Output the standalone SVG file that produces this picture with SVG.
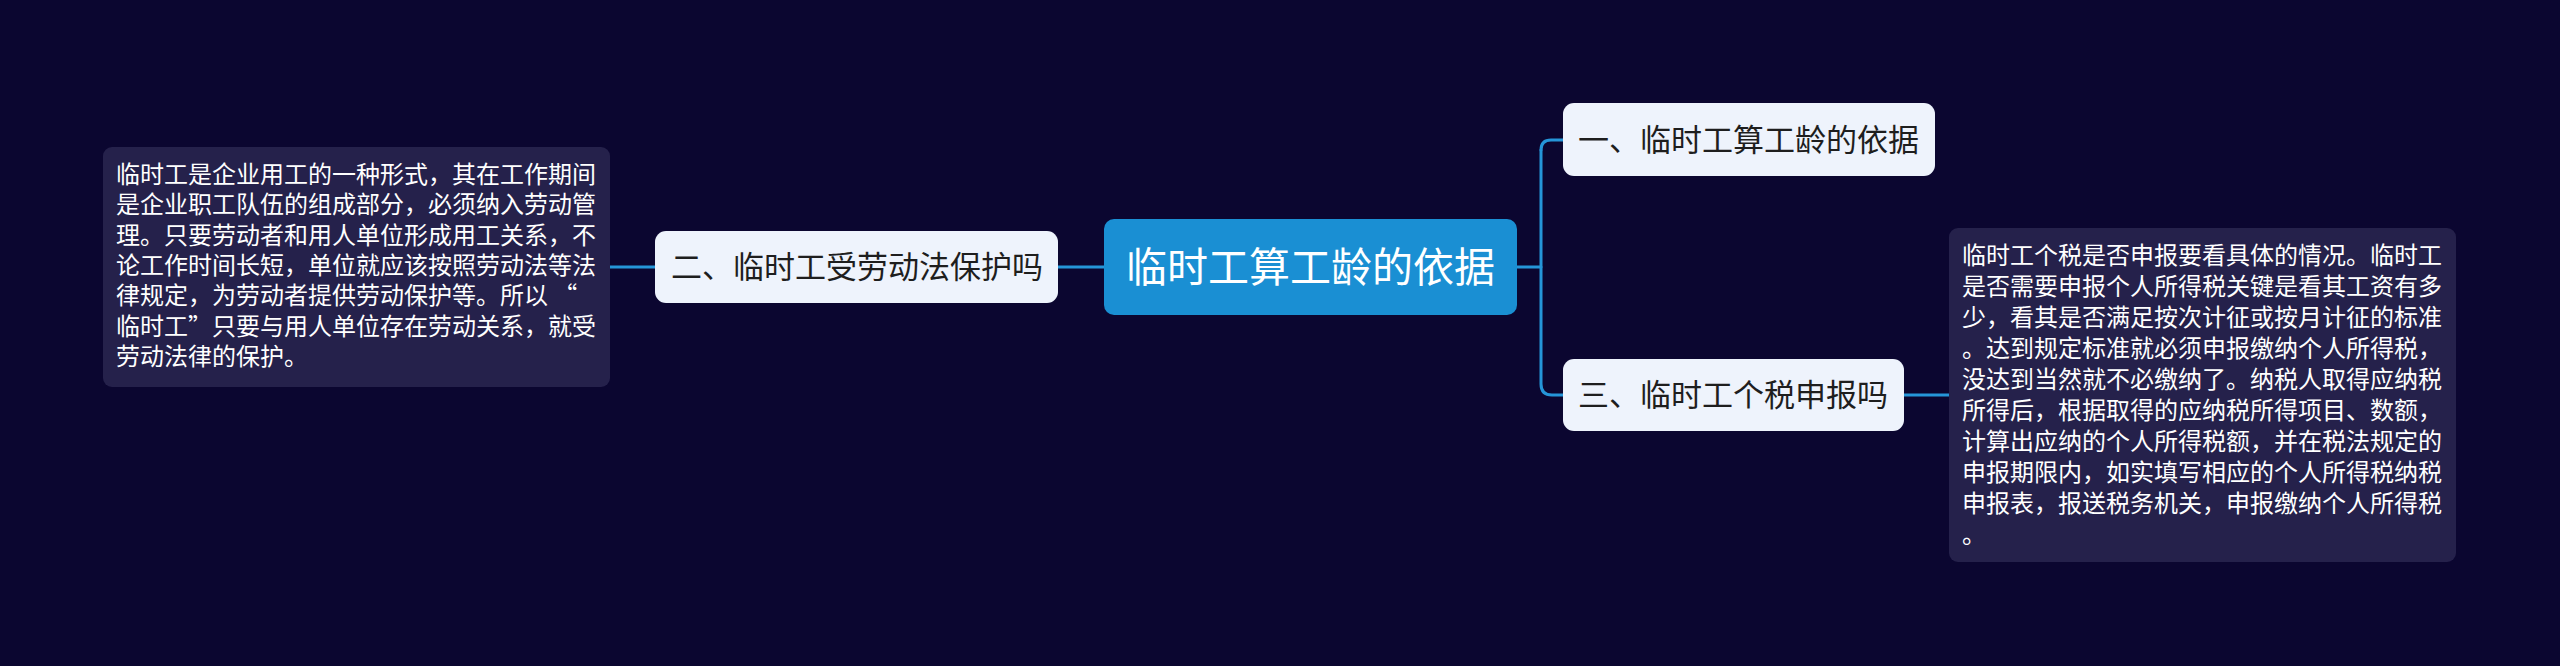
<svg xmlns="http://www.w3.org/2000/svg" width="2560" height="666" viewBox="0 0 2560 666">
<style>
.bg{fill:#0b0630}
.node{fill:#eef3fc}
.root{fill:#1a8fd3}
.note{fill:#25214b}
.t{font-family:"Noto Sans CJK SC","Noto Sans",sans-serif}
.nt{font-size:31px;fill:#1e1e1e}
.rt{font-size:41px;fill:#ffffff;text-anchor:middle}
.ntx{font-size:24px;fill:#ffffff}
.link{fill:none;stroke:#2595d8;stroke-width:3;stroke-linecap:round}
</style>
<rect class="bg" x="0" y="0" width="2560" height="666"/>
<g id="connectors">
<path class="link" d="M1517,267 H1541"/>
<path class="link" d="M1541,150 V384 Q1541,395 1552,395 H1563"/>
<path class="link" d="M1541,150 Q1541,140 1551,140 H1563"/>
<path class="link" d="M1104,267 H1058"/>
<path class="link" d="M655,267 H610"/>
<path class="link" d="M1904,395 H1949"/>
</g>
<g id="root">
<rect class="root" x="1104" y="219" width="413" height="96" rx="10"/>
<text class="t rt" x="1310.5" y="282">临时工算工龄的依据</text>
</g>
<g id="n1">
<rect class="node" x="1563" y="103" width="372" height="73" rx="11"/>
<text class="t nt" x="1578" y="151">一、临时工算工龄的依据</text>
</g>
<g id="n2">
<rect class="node" x="655" y="231" width="403" height="72" rx="11"/>
<text class="t nt" x="671" y="278">二、临时工受劳动法保护吗</text>
</g>
<g id="n3">
<rect class="node" x="1563" y="359" width="341" height="72" rx="11"/>
<text class="t nt" x="1578" y="406">三、临时工个税申报吗</text>
</g>
<g id="note2">
<rect class="note" x="103" y="147" width="507" height="240" rx="9"/>
<text class="t ntx" x="116">
<tspan x="116" y="183">临时工是企业用工的一种形式，其在工作期间</tspan>
<tspan x="116" y="213.3">是企业职工队伍的组成部分，必须纳入劳动管</tspan>
<tspan x="116" y="243.6">理。只要劳动者和用人单位形成用工关系，不</tspan>
<tspan x="116" y="273.9">论工作时间长短，单位就应该按照劳动法等法</tspan>
<tspan x="116" y="304.2">律规定，为劳动者提供劳动保护等。所以 “</tspan>
<tspan x="116" y="334.5">临时工”只要与用人单位存在劳动关系，就受</tspan>
<tspan x="116" y="364.8">劳动法律的保护。</tspan>
</text>
</g>
<g id="note3">
<rect class="note" x="1949" y="228" width="507" height="334" rx="9"/>
<text class="t ntx" x="1962">
<tspan x="1962" y="264">临时工个税是否申报要看具体的情况。临时工</tspan>
<tspan x="1962" y="295">是否需要申报个人所得税关键是看其工资有多</tspan>
<tspan x="1962" y="326">少，看其是否满足按次计征或按月计征的标准</tspan>
<tspan x="1962" y="357">。达到规定标准就必须申报缴纳个人所得税，</tspan>
<tspan x="1962" y="388">没达到当然就不必缴纳了。纳税人取得应纳税</tspan>
<tspan x="1962" y="419">所得后，根据取得的应纳税所得项目、数额，</tspan>
<tspan x="1962" y="450">计算出应纳的个人所得税额，并在税法规定的</tspan>
<tspan x="1962" y="481">申报期限内，如实填写相应的个人所得税纳税</tspan>
<tspan x="1962" y="512">申报表，报送税务机关，申报缴纳个人所得税</tspan>
<tspan x="1962" y="543">。</tspan>
</text>
</g>
</svg>
